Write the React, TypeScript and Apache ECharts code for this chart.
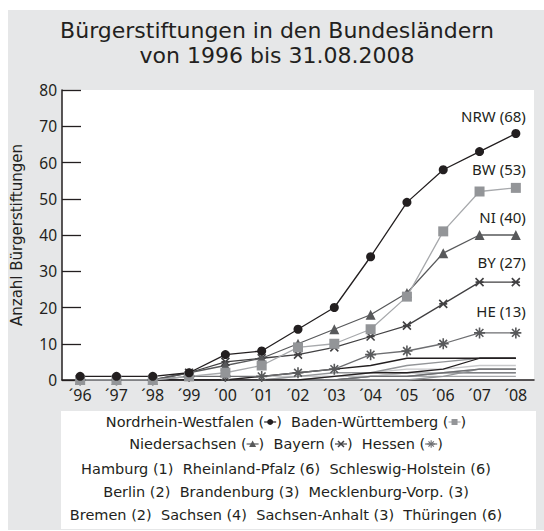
import React, { useEffect, useRef } from "react";
import * as echarts from "echarts";

const years = ["´96", "´97", "´98", "´99", "´00", "´01", "´02", "´03", "´04", "´05", "´06", "´07", "´08"];

// major states
const nrw = [1, 1, 1, 2, 7, 8, 14, 20, 34, 49, 58, 63, 68];
const bw = [0, 0, 0, 1, 2, 4, 9, 10, 14, 23, 41, 52, 53];
const ni = [0, 0, 0, 2, 4, 6, 10, 14, 18, 24, 35, 40, 40];
const by = [0, 0, 0, 2, 5, 6, 7, 9, 12, 15, 21, 27, 27];
const he = [0, 0, 0, 1, 1, 1, 2, 3, 7, 8, 10, 13, 13];
const endLabels = ["NRW (68)", "BW (53)", "NI (40)", "BY (27)", "HE (13)"];

// small states
const hamburg = [0, 0, 0, 0, 0, 0, 0, 0, 1, 1, 1, 1, 1];
const berlin = [0, 0, 0, 0, 0, 0, 1, 1, 1, 2, 2, 2, 2];
const bremen = [0, 0, 0, 0, 0, 0, 0, 0, 1, 1, 2, 2, 2];
const brandenburg = [0, 0, 0, 0, 0, 0, 0, 1, 1, 2, 2, 3, 3];
const mv = [0, 0, 0, 0, 0, 0, 0, 0, 0, 0, 1, 3, 3];
const sachsen = [0, 0, 0, 0, 0, 1, 1, 1, 2, 3, 3, 4, 4];
const sachsenAnhalt = [0, 0, 0, 0, 0, 0, 0, 0, 1, 1, 2, 3, 3];
const rlp = [0, 0, 0, 0, 0, 1, 2, 3, 4, 6, 6, 6, 6];
const sh = [0, 0, 0, 0, 0, 0, 1, 2, 2, 4, 5, 6, 6];
const thueringen = [0, 0, 0, 0, 0, 0, 0, 1, 2, 2, 3, 6, 6];

const yTicks = { min: 0, max: 80, interval: 10 };

const titleLines = ["Bürgerstiftungen in den Bundesländern", "von 1996 bis 31.08.2008"];
const yName = "Anzahl Bürgerstiftungen";

const legendLine1 = ["Nordrhein-Westfalen (", "nrw", ")  Baden-Württemberg (", "bw", ")"];
const legendLine2 = ["Niedersachsen (", "ni", ")  Bayern (", "by", ")  Hessen (", "he", ")"];
const legendPlain = [
  "Hamburg (1)  Rheinland-Pfalz (6)  Schleswig-Holstein (6)",
  "Berlin (2)  Brandenburg (3)  Mecklenburg-Vorp. (3)",
  "Bremen (2)  Sachsen (4)  Sachsen-Anhalt (3)  Thüringen (6)",
];

const FONT = "'Noto Sans', sans-serif";
const WIDE = "'DejaVu Sans', sans-serif";
const TXT = "#231f20";

const BY_PATH = "path://M0,0L10,10M10,0L0,10M0,5L10,5";
const HE_PATH = "path://M5,0L5,10M0,5L10,5M1.5,1.5L8.5,8.5M8.5,1.5L1.5,8.5";

const markerStyles: Record<string, { line: string; sym: string }> = {
  nrw: { line: "#231f20", sym: "#231f20" },
  bw: { line: "#a7a9ac", sym: "#939598" },
  ni: { line: "#58595b", sym: "#58595b" },
  by: { line: "#414042", sym: "#414042" },
  he: { line: "#6d6e71", sym: "#6d6e71" },
};

function App() {
  const ref = useRef<HTMLDivElement>(null);
  useEffect(() => {
    if (!ref.current) return;
    const chart = echarts.init(ref.current, null, { renderer: "svg" });
    const canvas = document.createElement("canvas");
    const ctx = canvas.getContext("2d")!;
    const legendFontSize = 14.5;
    const legendFont = `${legendFontSize}px ${WIDE}`;
    ctx.font = legendFont;
    const mw = (s: string) => ctx.measureText(s).width;
    const MARK_W = 12;

    const graphics: any[] = [];
    // legend box
    graphics.push({ type: "rect", shape: { x: 61, y: 411, width: 475, height: 118 }, style: { fill: "#ffffff" }, z: 0 });

    const legendCx = 286;
    const drawMarker = (key: string, x: number, y: number) => {
      const st = markerStyles[key];
      const cx = x + MARK_W / 2;
      graphics.push({ type: "line", shape: { x1: x, y1: y, x2: x + MARK_W, y2: y }, style: { stroke: st.line, lineWidth: 1.2 }, z: 2 });
      if (key === "nrw") graphics.push({ type: "circle", shape: { cx, cy: y, r: 3 }, style: { fill: st.sym }, z: 3 });
      if (key === "bw") graphics.push({ type: "rect", shape: { x: cx - 3, y: y - 3, width: 6, height: 6 }, style: { fill: st.sym }, z: 3 });
      if (key === "ni") graphics.push({ type: "polygon", shape: { points: [[cx, y - 3.5], [cx + 3.5, y + 3], [cx - 3.5, y + 3]] }, style: { fill: st.sym }, z: 3 });
      if (key === "by") {
        graphics.push({ type: "line", shape: { x1: cx - 3, y1: y - 3, x2: cx + 3, y2: y + 3 }, style: { stroke: st.sym, lineWidth: 1.5 }, z: 3 });
        graphics.push({ type: "line", shape: { x1: cx + 3, y1: y - 3, x2: cx - 3, y2: y + 3 }, style: { stroke: st.sym, lineWidth: 1.5 }, z: 3 });
      }
      if (key === "he") {
        const r = 3.8;
        for (let k = 0; k < 4; k++) {
          const a = (k * Math.PI) / 4;
          graphics.push({ type: "line", shape: { x1: cx - r * Math.cos(a), y1: y - r * Math.sin(a), x2: cx + r * Math.cos(a), y2: y + r * Math.sin(a) }, style: { stroke: st.sym, lineWidth: 1.1 }, z: 3 });
        }
      }
    };
    const drawMixedLine = (parts: string[], y: number) => {
      const isMark = (p: string) => p in markerStyles;
      const total = parts.reduce((s, p) => s + (isMark(p) ? MARK_W : mw(p)), 0);
      let x = legendCx - total / 2;
      parts.forEach((p) => {
        if (isMark(p)) {
          drawMarker(p, x, y);
          x += MARK_W;
        } else {
          graphics.push({ type: "text", x, y, style: { text: p, fill: TXT, font: legendFont, textAlign: "left", textVerticalAlign: "middle" }, z: 2 });
          x += mw(p);
        }
      });
    };
    drawMixedLine(legendLine1, 422);
    drawMixedLine(legendLine2, 444);
    const plainY = [469, 492, 515];
    legendPlain.forEach((t, i) => {
      graphics.push({ type: "text", x: legendCx, y: plainY[i], style: { text: t, fill: TXT, font: legendFont, textAlign: "center", textVerticalAlign: "middle" }, z: 2 });
    });
    // title
    graphics.push({ type: "text", x: 277, y: 30, style: { text: titleLines[0], fill: TXT, font: `22px ${WIDE}`, textAlign: "center", textVerticalAlign: "middle" }, z: 2 });
    graphics.push({ type: "text", x: 277, y: 55, style: { text: titleLines[1], fill: TXT, font: `22px ${WIDE}`, textAlign: "center", textVerticalAlign: "middle" }, z: 2 });

    const last = years.length - 1;
    const withEndLabel = (vals: number[], label: string) =>
      vals.map((v, i) =>
        i === last
          ? {
              value: v,
              label: {
                show: true,
                formatter: label,
                position: "top",
                align: "right",
                distance: 6,
                offset: [10, 0],
                fontFamily: FONT,
                fontSize: 15,
                color: TXT,
              },
            }
          : v
      );

    const small = (name: string, data: number[], color: string) => ({
      name,
      type: "line",
      data,
      symbol: "none",
      lineStyle: { color, width: 1.3 },
      z: 2,
    });

    const major = (name: string, data: number[], label: string, symbol: string, size: number, lineColor: string, symColor: string, stroke = false) => ({
      name,
      type: "line",
      data: withEndLabel(data, label),
      symbol,
      symbolSize: size,
      showAllSymbol: true,
      lineStyle: { color: lineColor, width: 1.3 },
      itemStyle: stroke ? { color: "none", borderColor: symColor, borderWidth: 1.6 } : { color: symColor, borderWidth: 0 },
      z: 3,
    });

    chart.setOption({
      animation: false,
      textStyle: { fontFamily: FONT },
      grid: { left: 62, right: 10, top: 90, bottom: 151, show: true, backgroundColor: "#ffffff", borderWidth: 0 },
      xAxis: {
        type: "category",
        data: years,
        boundaryGap: true,
        axisLine: { show: true, lineStyle: { color: TXT, width: 1.5 } },
        axisTick: { show: false },
        axisLabel: { color: TXT, fontSize: 16, margin: 7, fontFamily: FONT },
      },
      yAxis: {
        type: "value",
        min: yTicks.min,
        max: yTicks.max,
        interval: yTicks.interval,
        name: yName,
        nameLocation: "middle",
        nameRotate: 90,
        nameGap: 38,
        nameTextStyle: { color: TXT, fontSize: 15, fontFamily: WIDE },
        axisLine: { show: true, lineStyle: { color: TXT, width: 1.5 } },
        axisTick: { show: true, inside: true, length: 19, lineStyle: { color: TXT, width: 1.3 } },
        splitLine: { show: false },
        axisLabel: { color: TXT, fontSize: 15.5, margin: 5, fontFamily: FONT },
      },
      graphic: graphics,
      series: [
        small("Hamburg", hamburg, "#a7a9ac"),
        small("Berlin", berlin, "#c7c8ca"),
        small("Bremen", bremen, "#808285"),
        small("Brandenburg", brandenburg, "#bcbec0"),
        small("Mecklenburg-Vorp.", mv, "#939598"),
        small("Sachsen", sachsen, "#c7c8ca"),
        small("Sachsen-Anhalt", sachsenAnhalt, "#6d6e71"),
        small("Schleswig-Holstein", sh, "#939598"),
        small("Thüringen", thueringen, "#231f20"),
        small("Rheinland-Pfalz", rlp, "#231f20"),
        major("Hessen", he, endLabels[4], HE_PATH, 11, "#6d6e71", "#58595b", true),
        major("Bayern", by, endLabels[3], BY_PATH, 8, "#414042", "#414042", true),
        major("Niedersachsen", ni, endLabels[2], "triangle", 10, "#58595b", "#58595b"),
        major("Baden-Württemberg", bw, endLabels[1], "rect", 10, "#a7a9ac", "#939598"),
        major("Nordrhein-Westfalen", nrw, endLabels[0], "circle", 9, "#231f20", "#231f20"),
      ],
    });
    return () => chart.dispose();
  }, []);

  return (
    <div style={{ position: "absolute", left: 0, top: 0, width: 544, height: 531, background: "#ffffff" }}>
      <div style={{ position: "absolute", left: 8, top: 10, width: 536, height: 520, background: "#e6e7e8" }} />
      <div ref={ref} style={{ position: "absolute", left: 0, top: 0, width: 544, height: 531 }} />
    </div>
  );
}

export default App;
